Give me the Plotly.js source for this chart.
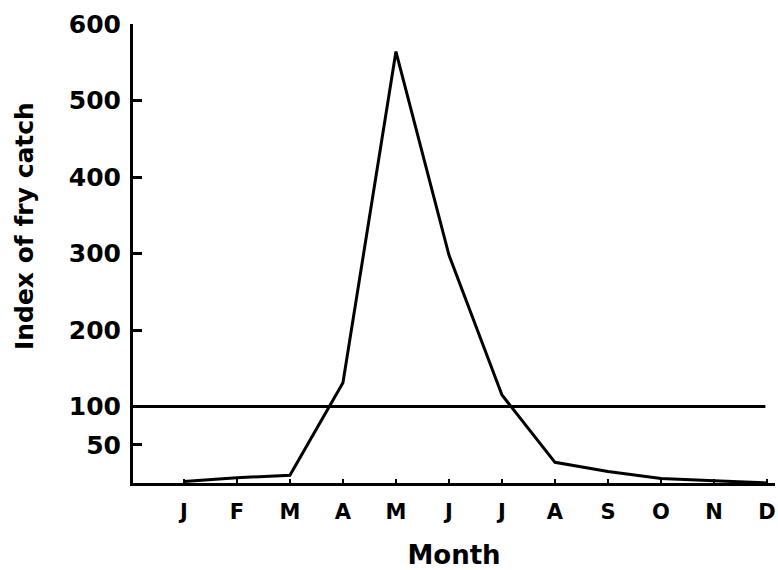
<!DOCTYPE html>
<html>
<head>
<meta charset="utf-8">
<script src="https://cdn.plot.ly/plotly-3.0.1.min.js"></script>
<style>html,body{margin:0;padding:0;background:#fff;}#chart{width:778px;height:570px;}</style>
</head>
<body>
<div id="chart"></div>
<script>
// Month position (1 = January ... 12 = December)
const monthPos = [1, 2, 3, 4, 5, 6, 7, 8, 9, 10, 11, 12];
const monthLabels = ['J', 'F', 'M', 'A', 'M', 'J', 'J', 'A', 'S', 'O', 'N', 'D'];
// Index of fry catch
const fryIndex = [2, 7, 10, 131, 564, 298, 115, 27, 15, 6, 3, 0];
// Reference level line
const referenceLevel = 100;
const yTickVals = [50, 100, 200, 300, 400, 500, 600];
const yTickText = ['50', '100', '200', '300', '400', '500', '600'];
const xTitle = 'Month';
const yTitle = 'Index of fry catch';

const font = 'DejaVu Sans, Verdana, sans-serif';

const trace = {
  x: monthPos,
  y: fryIndex,
  type: 'scatter',
  mode: 'lines',
  line: {color: '#000', width: 3},
  hoverinfo: 'skip'
};

const layout = {
  width: 778,
  height: 570,
  margin: {l: 133, r: 3, t: 24, b: 87},
  paper_bgcolor: '#fff',
  plot_bgcolor: '#fff',
  showlegend: false,
  font: {family: font, color: '#000'},
  xaxis: {
    range: [0.04, 12.15],
    tickvals: monthPos,
    ticktext: monthLabels,
    ticks: 'inside',
    ticklen: 4,
    tickwidth: 2,
    tickcolor: '#000',
    showline: true,
    linecolor: '#000',
    linewidth: 3,
    showgrid: false,
    zeroline: false,
    tickfont: {family: font, size: 21, weight: 'bold', color: '#000'},
    ticklabelstandoff: 8,
    ticklabeloverflow: 'allow',
    title: {text: xTitle, font: {family: font, size: 26, weight: 'bold', color: '#000'}, standoff: 26}
  },
  yaxis: {
    range: [0, 600],
    tickvals: yTickVals,
    ticktext: yTickText,
    ticks: 'inside',
    ticklen: 9,
    tickwidth: 3,
    tickcolor: '#000',
    showline: true,
    linecolor: '#000',
    linewidth: 3,
    showgrid: false,
    zeroline: false,
    tickfont: {family: font, size: 25, weight: 'bold', color: '#000'},
    ticklabelstandoff: 4
  },
  annotations: [{
    text: yTitle,
    xref: 'paper', yref: 'paper',
    x: -0.168, y: 0.56,
    xanchor: 'center', yanchor: 'middle',
    textangle: -90,
    showarrow: false,
    font: {family: font, size: 25, weight: 'bold', color: '#000'}
  }],
  shapes: [{
    type: 'line',
    xref: 'paper', yref: 'y',
    x0: 0, x1: 0.985,
    y0: referenceLevel, y1: referenceLevel,
    line: {color: '#000', width: 3}
  }]
};

Plotly.newPlot('chart', [trace], layout, {displayModeBar: false, staticPlot: true});
</script>
</body>
</html>
